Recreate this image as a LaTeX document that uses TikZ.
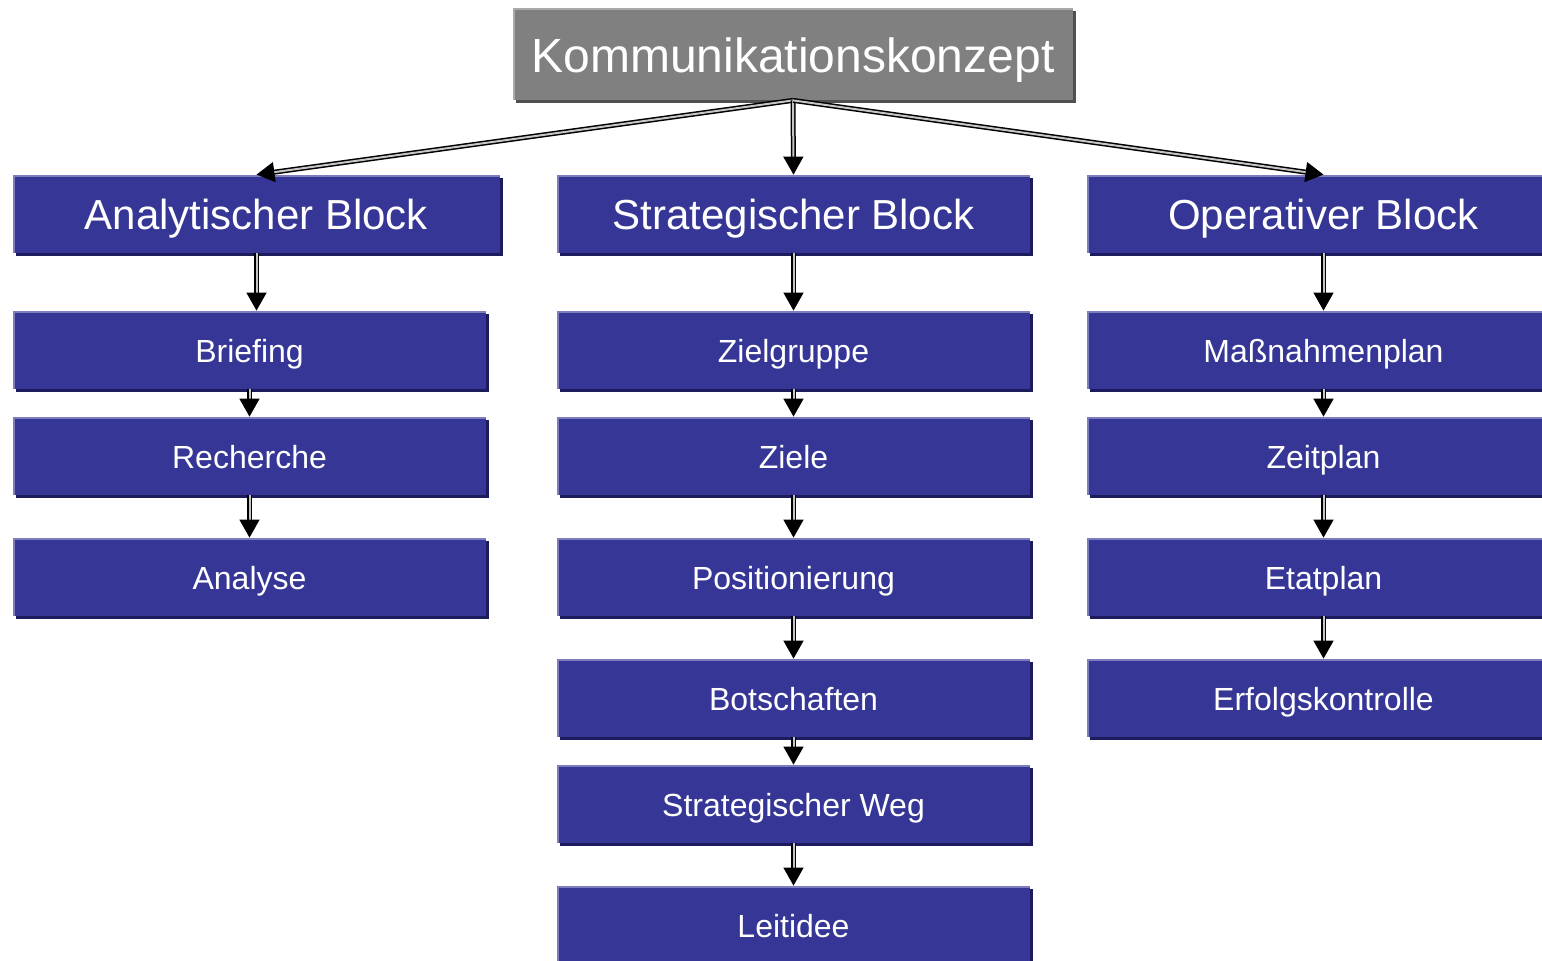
\documentclass[tikz,border=0pt]{standalone}
\usepackage{fontspec}
\setmainfont{Liberation Sans}
\usepackage{xcolor}
\definecolor{topfill}{RGB}{128,128,128}
\definecolor{topedge}{RGB}{170,170,170}
\definecolor{topshadow}{RGB}{80,80,80}
\definecolor{blockfill}{RGB}{54,54,150}
\definecolor{blockedge}{RGB}{125,125,190}
\definecolor{blockshadow}{RGB}{28,28,92}
\usepackage{tikz}
\usetikzlibrary{arrows.meta,positioning,shadows}

\begin{document}
\begin{tikzpicture}[x=0.5pt, y=-0.5pt,
  topbox/.style={fill=topedge, text=white, font=\fontsize{24}{28}\selectfont, minimum width=280pt, minimum height=46pt, inner sep=0pt,
    text height=18.5pt, text depth=0pt,
    drop shadow={shadow xshift=1.5pt, shadow yshift=-1.5pt, fill=topshadow, opacity=1},
    path picture={\fill[topfill] ([xshift=1pt,yshift=-1pt]path picture bounding box.north west) rectangle (path picture bounding box.south east);}},
  headbox/.style={fill=blockedge, text=white, font=\fontsize{21}{25}\selectfont, minimum width=236.5pt, minimum height=39pt, inner sep=0pt,
    text height=15.3pt, text depth=0pt,
    drop shadow={shadow xshift=1.5pt, shadow yshift=-1.5pt, fill=blockshadow, opacity=1},
    path picture={\fill[blockfill] ([xshift=1pt,yshift=-1pt]path picture bounding box.north west) rectangle (path picture bounding box.south east);}},
  itembox/.style={headbox, font=\fontsize{16}{19}\selectfont, text height=12.8pt},
  arrow/.style={-{Triangle[length=9pt, width=10pt]}, draw=black, line width=0.75pt, double=gray!45, double distance=1pt}
]
\useasboundingbox (0,0) rectangle (1542,960);

\node[topbox] (top) at (793,54) {Kommunikationskonzept};

\node[headbox, minimum width=243.5pt] (ana) at (256.5,214) {Analytischer Block};
\node[headbox] (str) at (793.5,214) {Strategischer Block};
\node[headbox] (ope) at (1323.5,214) {Operativer Block};

% Analytischer Block
\node[itembox] (brief) at (249.5,350) {Briefing};
\node[itembox] (rech) at (249.5,456) {Recherche};
\node[itembox] (anal) at (249.5,577) {Analyse};

% Strategischer Block
\node[itembox] (ziel) at (793.5,350) {Zielgruppe};
\node[itembox] (ziele) at (793.5,456) {Ziele};
\node[itembox] (pos) at (793.5,577) {Positionierung};
\node[itembox] (bot) at (793.5,698) {Botschaften};
\node[itembox] (weg) at (793.5,804) {Strategischer Weg};
\node[itembox] (leit) at (793.5,925) {Leitidee};

% Operativer Block
\node[itembox] (mass) at (1323.5,350) {Maßnahmenplan};
\node[itembox] (zeit) at (1323.5,456) {Zeitplan};
\node[itembox] (etat) at (1323.5,577) {Etatplan};
\node[itembox] (erf) at (1323.5,698) {Erfolgskontrolle};

\draw[arrow] (top.south) -- (ana.north);
\draw[arrow] (top.south) -- (str.north);
\draw[arrow] (top.south) -- (ope.north);

\draw[arrow] (ana.south) -- (ana.south |- brief.north);
\draw[arrow] (brief) -- (rech);
\draw[arrow] (rech) -- (anal);

\draw[arrow] (str) -- (ziel);
\draw[arrow] (ziel) -- (ziele);
\draw[arrow] (ziele) -- (pos);
\draw[arrow] (pos) -- (bot);
\draw[arrow] (bot) -- (weg);
\draw[arrow] (weg) -- (leit);

\draw[arrow] (ope) -- (mass);
\draw[arrow] (mass) -- (zeit);
\draw[arrow] (zeit) -- (etat);
\draw[arrow] (etat) -- (erf);
\end{tikzpicture}
\end{document}
